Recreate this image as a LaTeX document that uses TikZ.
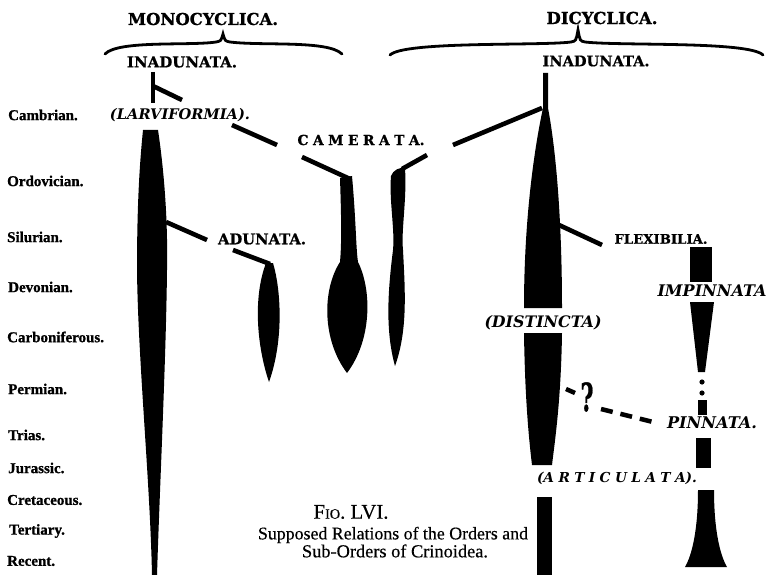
\documentclass[tikz,border=0pt]{standalone}
\usepackage{fontspec}
\usepackage{graphicx}
\setmainfont{DejaVu Serif}
\newfontfamily\capface[BoldFeatures={FakeBold=0.8}]{DejaVu Serif}
\newfontfamily\eraface[BoldFeatures={FakeBold=1}]{Liberation Serif}
\newfontfamily\capbody[FakeBold=0.4]{Liberation Serif}
\begin{document}
\newcommand\fitw[2]{\resizebox{#1pt}{!}{#2}}
\newcommand\lsp{\hspace{0.32em}}
\tikzset{
 era/.style={anchor=west, font=\eraface\bfseries\fontsize{15}{17}\selectfont, inner sep=0pt},
 grp/.style={font=\capface\bfseries\fontsize{13}{16}\selectfont, inner sep=0pt},
 itl/.style={font=\capface\bfseries\itshape\fontsize{13}{16}\selectfont, inner sep=0pt},
 captxt/.style={font=\capbody\fontsize{16}{18}\selectfont, inner sep=0pt},
 conn/.style={line width=4.6pt},
 blob/.style={fill=black},
 bracepath/.style={line width=2.8pt, line cap=round}
}
\begin{tikzpicture}[x=1pt,y=-1pt]
\useasboundingbox (0,0) rectangle (769,575);
\fill[white] (0,0) rectangle (769,575);

% era labels
\node[era] (cam) at (8,115) {Cambrian.};
\node[era] (ord) at (7,181) {Ordovician.};
\node[era] (sil) at (7,237) {Silurian.};
\node[era] (dev) at (8,287) {Devonian.};
\node[era] (car) at (7,337) {Carboniferous.};
\node[era] (per) at (8,389) {Permian.};
\node[era] (tri) at (8,435) {Trias.};
\node[era] (jur) at (8,468) {Jurassic.};
\node[era] (cre) at (7,500) {Cretaceous.};
\node[era] (ter) at (9,531) {Tertiary.};
\node[era] (rec) at (7,561) {Recent.};

% headings and braces
\node[grp] (mono) at (203,19) {\fitw{150}{MONOCYCLICA.}};
\node[grp] (dicy) at (602,18) {\fitw{111}{DICYCLICA.}};
\draw[bracepath] (105,54) .. controls (118,40) and (190,46) .. (216,42) .. controls (221,41) .. (223,34)
  .. controls (225,41) .. (230,42) .. controls (262,46) and (328,40) .. (342,54);
\draw[bracepath] (390,55) .. controls (404,41) and (540,46) .. (571,42) .. controls (576,41) .. (578,30)
  .. controls (580,41) .. (585,42) .. controls (620,46) and (749,41) .. (763,55);

% group labels
\node[grp] (inaL) at (182,62) {\fitw{110}{INADUNATA.}};
\node[grp] (inaR) at (596,61) {\fitw{107}{INADUNATA.}};
\node[itl] (larv) at (180,115) {\fitw{140}{(LARVIFORMIA).}};
\node[grp] (came) at (361,140) {\fitw{127}{C\lsp A\lsp M\lsp E\lsp R\lsp A\lsp T\lsp A.}};
\node[grp] (adun) at (262,239) {\fitw{88}{ADUNATA.}};
\node[grp] (flex) at (661,239) {\fitw{93}{FLEXIBILIA.}};
\node[itl] (imp) at (712,291) {\fitw{109}{IMPINNATA}};
\node[itl] (dist) at (543,323) {\fitw{117}{(DISTINCTA)}};
\node[itl] (pinn) at (712,423) {\fitw{90}{PINNATA.}};
\node[itl] (artic) at (617,478) {\fitw{160}{(A\lsp R\lsp T\lsp I\lsp C\lsp U\lsp L\lsp A\lsp T\lsp A).}};

% caption
\node[captxt] (fig) at (351,512) {\fitw{75}{F{\fontsize{11}{11}\selectfont IO}. LVI.}};
\node[captxt] (cap1) at (393,535) {\fitw{270}{Supposed Relations of the Orders and}};
\node[captxt] (cap2) at (395,551) {\fitw{186}{Sub-Orders of Crinoidea.}};

% connector coordinates
\coordinate (l1) at (153,72);
\coordinate (l2) at (153,103);
\coordinate (l3) at (153,86);
\coordinate (l4) at (182,100);
\coordinate (c1) at (232,125);
\coordinate (c2) at (277,145);
\coordinate (c3) at (302,157);
\coordinate (c4) at (350,179);
\coordinate (c5) at (427,155);
\coordinate (c6) at (402,169);
\coordinate (c7) at (453,145);
\coordinate (c8) at (542,108);
\coordinate (a1) at (166,222);
\coordinate (a2) at (207,240);
\coordinate (a3) at (233,250);
\coordinate (a4) at (270,264);
\coordinate (f1) at (559,225);
\coordinate (f2) at (602,245);

\draw[line width=4pt] (l1) -- (l2);
\draw[conn] (l3) -- (l4);
\draw[conn] (c1) -- (c2);
\draw[conn] (c3) -- (c4);
\draw[conn] (c5) -- (c6);
\draw[conn] (c7) -- (c8);
\draw[conn] (a1) -- (a2);
\draw[conn] (a3) -- (a4);
\draw[conn] (f1) -- (f2);

% left great spindle
\fill[blob] (143,130) -- (158,130) .. controls (164,170) and (168,220) .. (167,270)
  .. controls (166,360) and (160,480) .. (157,575) -- (152,575)
  .. controls (150,480) and (138,360) .. (137,270) .. controls (137,200) and (140,160) .. (143,130) -- cycle;
% adunata spindle
\fill[blob] (266,263) -- (273,263) .. controls (281,290) and (284,340) .. (269,382)
  .. controls (258,350) and (252,300) .. (266,263) -- cycle;
% camerata left
\fill[blob] (340,178) -- (352,176) .. controls (356,220) and (356,250) .. (358,262)
  .. controls (372,290) and (372,340) .. (347,373)
  .. controls (322,340) and (322,290) .. (340,262)
  .. controls (342,240) and (341,210) .. (340,178) -- cycle;
% camerata right
\fill[blob] (391,176) .. controls (393,170) and (400,167) .. (405,168)
  .. controls (407,200) and (401,230) .. (403,250)
  .. controls (405,290) and (408,330) .. (395,366)
  .. controls (385,330) and (388,290) .. (393,250)
  .. controls (395,230) and (389,200) .. (391,176) -- cycle;
% dicyclic inadunata spindle
\fill[blob] (543,73) -- (548,73) -- (548,108) .. controls (556,150) and (562,220) .. (562,308)
  -- (524,308) .. controls (524,220) and (534,150) .. (543,108) -- cycle;
\fill[blob] (524,333) -- (562,333) .. controls (561,400) and (555,440) .. (552,465)
  -- (532,465) .. controls (529,440) and (525,400) .. (524,333) -- cycle;
\fill[blob] (537,497) rectangle (552,575);

% right column
\fill[blob] (690,247) rectangle (712,282);
\fill[blob] (690,302) -- (714,302) -- (705,372) -- (698,372) -- cycle;
\fill[blob] (702,382) circle (2.6);
\fill[blob] (702,393) circle (2.6);
\fill[blob] (698,400) rectangle (707,415);
\fill[blob] (696,438) rectangle (711,468);
\fill[blob] (698,490) -- (714,490) .. controls (714,530) and (720,555) .. (727,567)
  -- (685,567) .. controls (692,555) and (698,530) .. (698,490) -- cycle;

% question link
\coordinate (q1) at (566,389);
\coordinate (q2) at (575,393);
\coordinate (q3) at (601,409);
\coordinate (q4) at (657,423);
\draw[line width=4.5pt] (q1) -- (q2);
\node[inner sep=0pt, font=\capface\bfseries] (qm) at (587,397) {\resizebox{13pt}{29pt}{?}};
\draw[line width=4.5pt, dash pattern=on 12pt off 8pt] (q3) -- (q4);
\end{tikzpicture}
\end{document}
